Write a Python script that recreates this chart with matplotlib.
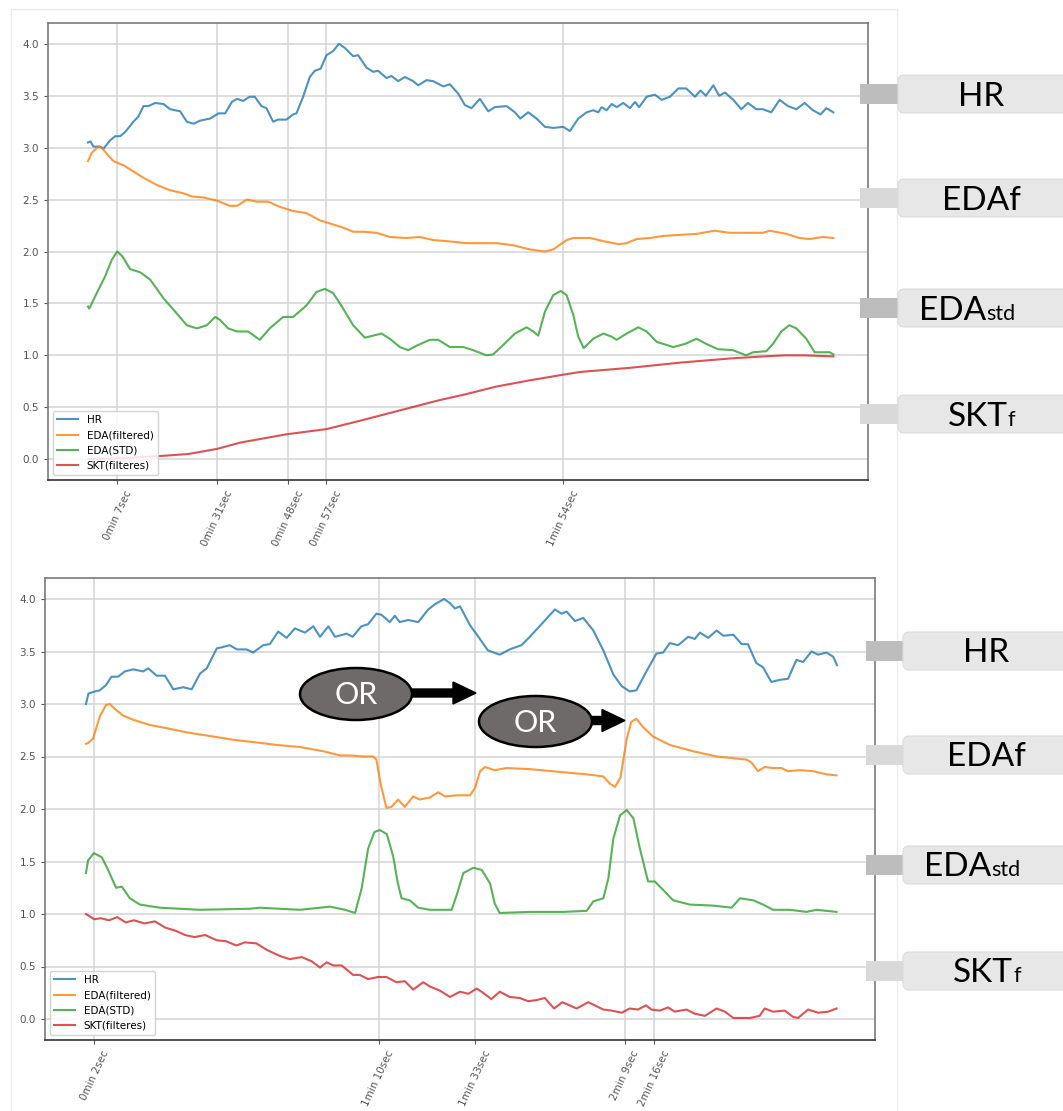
import matplotlib.pyplot as plt
from matplotlib.patches import FancyBboxPatch, Rectangle, Ellipse, FancyArrow

# ---------- data (time in seconds) ----------
# top recording
hr1_t = [0, 0.6, 1.3, 2.9, 3.7, 5.3, 6.5, 7.7, 8.9, 10.9, 12.1, 13.3, 14.5, 16.1, 18.1, 19.7, 22.1, 23.7,
         25.3, 26.9, 29.3, 31.3, 32.9, 34.5, 35.7, 37.2, 38.8, 40.0, 41.6, 42.8, 44.4, 45.6, 47.6, 49.2,
         50.0, 51.6, 53.2, 54.4, 55.8, 57.2, 58.8, 60.2, 61.6, 63.6, 64.8, 66.8, 68.4, 69.6, 71.6, 72.8,
         74.4, 76.0, 78.0, 79.2, 81.2, 82.8, 85.2, 86.8, 88.8, 90.4, 92.0, 94.0, 96.0, 97.6, 100.4, 102.4,
         103.7, 105.6, 107.6, 109.6, 111.6, 114.0, 115.6, 117.6, 119.6, 121.2, 122.4, 123.2, 124.4, 125.6,
         126.8, 128.4, 130.0, 131.2, 132.2, 134.0, 136.0, 137.6, 139.6, 141.6, 143.5, 145.6, 146.9, 148.2,
         150.0, 151.4, 152.8, 154.8, 156.7, 158.3, 160.3, 161.9, 163.9, 165.9, 167.9, 169.9, 171.9, 173.9,
         175.7, 177.1, 178.8]
hr1_v = [3.05, 3.06, 3.01, 3.01, 2.99, 3.07, 3.11, 3.11, 3.15, 3.25, 3.30, 3.40, 3.40, 3.43, 3.42, 3.37, 3.35, 3.25,
         3.23, 3.26, 3.28, 3.33, 3.33, 3.44, 3.47, 3.45, 3.49, 3.49, 3.40, 3.38, 3.25, 3.27, 3.27, 3.32,
         3.33, 3.49, 3.68, 3.74, 3.76, 3.89, 3.93, 4.00, 3.96, 3.88, 3.89, 3.77, 3.73, 3.74, 3.67, 3.69,
         3.64, 3.68, 3.64, 3.60, 3.65, 3.64, 3.59, 3.61, 3.52, 3.41, 3.38, 3.47, 3.35, 3.39, 3.40, 3.34,
         3.28, 3.34, 3.28, 3.20, 3.19, 3.20, 3.16, 3.28, 3.34, 3.36, 3.34, 3.39, 3.36, 3.42,
         3.39, 3.43, 3.38, 3.44, 3.39, 3.49, 3.51, 3.46, 3.49, 3.57, 3.57, 3.49, 3.55, 3.50,
         3.60, 3.50, 3.53, 3.46, 3.37, 3.43, 3.37, 3.37, 3.34, 3.46, 3.40, 3.37, 3.43, 3.36,
         3.32, 3.38, 3.34]

eda1_t = [0, 0.9, 2.5, 3.3, 4.5, 6.1, 8.5, 10.9, 13.3, 16.5, 19.7, 22.9, 24.9, 27.7, 30.9, 34.0, 35.8, 38.1,
          40.5, 43.2, 46.0, 49.2, 52.4, 55.6, 58.8, 61.2, 63.6, 66.0, 69.2, 72.4, 76.4, 79.6, 82.8, 86.0,
          90.8, 98.0, 102.0, 106.0, 109.6, 111.6, 114.8, 116.4, 120.4, 123.6, 127.2, 129.2, 131.6, 134.8,
          138.0, 142.0, 146.0, 150.3, 153.9, 157.9, 161.9, 163.5, 167.5, 170.7, 173.1, 176.3, 178.8]
eda1_v = [2.87, 2.95, 3.01, 3.00, 2.94, 2.87, 2.83, 2.77, 2.71, 2.64, 2.59, 2.56, 2.53, 2.52, 2.49, 2.44, 2.44, 2.50,
          2.48, 2.48, 2.43, 2.39, 2.37, 2.30, 2.26, 2.23, 2.19, 2.19, 2.18, 2.14, 2.13, 2.14, 2.11, 2.10,
          2.08, 2.08, 2.06, 2.02, 2.00, 2.02, 2.11, 2.13, 2.13, 2.10, 2.07, 2.08, 2.12, 2.13,
          2.15, 2.16, 2.17, 2.20, 2.18, 2.18, 2.18, 2.20, 2.17, 2.13, 2.12, 2.14, 2.13]

std1_t = [0, 0.3, 2.1, 4.1, 5.7, 7.0, 8.3, 10.1, 12.5, 14.9, 18.1, 20.5, 23.7, 26.1, 28.5, 30.5, 31.7, 33.6,
          35.7, 38.4, 41.2, 43.6, 46.8, 49.2, 52.4, 54.8, 56.8, 58.8, 61.2, 63.6, 66.4, 68.4, 70.4, 72.4,
          74.8, 76.8, 79.2, 82.0, 84.0, 86.8, 90.0, 92.4, 95.6, 97.2, 99.6, 102.4, 105.2, 106.8, 108.0,
          109.6, 111.6, 113.4, 114.8, 116.4, 117.6, 118.9, 121.2, 123.6, 125.6, 126.8, 129.2, 132.0, 134.0,
          136.4, 140.4, 143.2, 146.0, 148.3, 151.1, 154.7, 157.9, 159.5, 162.7, 164.3, 166.3, 168.2, 169.9,
          172.3, 174.3, 176.3, 177.9, 178.8]
std1_v = [1.47, 1.45, 1.60, 1.76, 1.92, 2.00, 1.95, 1.83, 1.80, 1.73, 1.55, 1.44, 1.29, 1.26, 1.29, 1.37, 1.34, 1.26,
          1.23, 1.23, 1.15, 1.26, 1.37, 1.37, 1.48, 1.61, 1.64, 1.60, 1.45, 1.29, 1.17, 1.19, 1.21, 1.16,
          1.08, 1.05, 1.10, 1.15, 1.15, 1.08, 1.08, 1.05, 1.00, 1.01, 1.10, 1.21, 1.27, 1.23, 1.19,
          1.42, 1.58, 1.62, 1.58, 1.39, 1.18, 1.07, 1.16, 1.21, 1.18, 1.15, 1.21, 1.27, 1.23,
          1.13, 1.08, 1.11, 1.16, 1.11, 1.06, 1.05, 1.00, 1.03, 1.04, 1.11, 1.23, 1.29, 1.26,
          1.16, 1.03, 1.03, 1.03, 1.01]

skt1_t = [0, 8, 17, 24, 31, 36.5, 47.6, 57.2, 65.2, 74.8, 84.4, 90, 98, 106, 113.4, 118, 130, 142, 154, 162,
          167, 172, 178.8]
skt1_v = [0.0, 0.01, 0.03, 0.05, 0.10, 0.16, 0.24, 0.29, 0.37, 0.47, 0.57, 0.62, 0.70, 0.76, 0.81, 0.84, 0.88,
          0.93, 0.97, 0.99, 1.00, 1.00, 0.99]

# bottom recording
hr2_t = [0, 0.6, 2.2, 3.3, 4.8, 6.1, 7.7, 9.3, 11.3, 13.7, 14.9, 16.9, 18.9, 20.9, 23.3, 25.3, 27.3, 28.9,
         31.3, 32.5, 34.4, 36.1, 38.4, 40.0, 42.4, 44.0, 46.0, 48.0, 50.0, 52.4, 54.4, 56.0, 58.0, 59.6,
         62.4, 63.8, 65.9, 67.5, 69.5, 70.7, 72.7, 73.9, 75.1, 77.1, 79.5, 81.9, 83.5, 85.7, 87.1, 88.3,
         89.5, 91.9, 93.9, 96.2, 99.0, 101.4, 104.2, 106.2, 109.0, 112.2, 113.8, 115.0, 117.0, 119.0,
         121.4, 123.8, 126.2, 128.2, 130.1, 131.7, 134.1, 136.5, 138.1, 139.7, 141.7, 144.1, 145.7, 146.9,
         148.9, 150.9, 152.5, 154.9, 156.9, 158.4, 160.4, 162.0, 164.0, 166.0, 168.0, 170.0, 171.6, 173.6,
         175.2, 177.2, 178.8, 179.7]
hr2_v = [3.00, 3.10, 3.12, 3.13, 3.18, 3.26, 3.26, 3.31, 3.33, 3.31, 3.34, 3.27, 3.27, 3.14, 3.16, 3.14, 3.29, 3.34,
         3.53, 3.54, 3.56, 3.52, 3.52, 3.49, 3.56, 3.57, 3.69, 3.63, 3.72, 3.68, 3.74, 3.64, 3.74, 3.64,
         3.67, 3.64, 3.74, 3.76, 3.86, 3.85, 3.78, 3.84, 3.78, 3.80, 3.78, 3.90, 3.95, 4.00, 3.96, 3.91,
         3.93, 3.75, 3.64, 3.51, 3.47, 3.52, 3.56, 3.64, 3.76, 3.90, 3.86, 3.88, 3.79, 3.82,
         3.70, 3.51, 3.28, 3.17, 3.12, 3.13, 3.31, 3.48, 3.49, 3.58, 3.56, 3.64, 3.62, 3.68,
         3.63, 3.70, 3.65, 3.66, 3.57, 3.57, 3.39, 3.35, 3.21, 3.23, 3.24, 3.42, 3.40, 3.50,
         3.47, 3.49, 3.45, 3.37]

eda2_t = [0, 0.6, 1.7, 3.3, 4.8, 5.7, 7.3, 8.9, 11.3, 15.3, 19.3, 24.1, 28.9, 35.2, 41.6, 45.6, 51.2, 56.8,
          60.8, 63.2, 66.3, 68.7, 69.5, 70.5, 71.9, 73.1, 74.7, 76.3, 78.3, 79.9, 82.3, 84.3, 85.9, 88.7,
          91.9, 93.1, 94.3, 95.5, 97.8, 100.6, 106.2, 114.2, 119.8, 123.8, 125.4, 126.6, 127.9, 129.4,
          130.5, 131.7, 133.3, 135.7, 139.7, 145.3, 150.9, 158.1, 159.3, 160.8, 162.4, 164.4, 166.4, 168.0,
          170.8, 174.0, 177.2, 179.6]
eda2_v = [2.62, 2.63, 2.67, 2.88, 2.99, 3.00, 2.94, 2.89, 2.85, 2.80, 2.77, 2.73, 2.70, 2.66, 2.63, 2.61, 2.59, 2.55,
          2.51, 2.51, 2.50, 2.50, 2.47, 2.24, 2.01, 2.02, 2.09, 2.02, 2.12, 2.09, 2.11, 2.16, 2.12, 2.13,
          2.13, 2.20, 2.36, 2.40, 2.37, 2.39, 2.38, 2.35, 2.33, 2.31, 2.24, 2.21, 2.30, 2.67,
          2.83, 2.86, 2.78, 2.69, 2.61, 2.55, 2.50, 2.47, 2.44, 2.36, 2.40, 2.39, 2.39, 2.36,
          2.37, 2.36, 2.33, 2.32]

std2_t = [0, 0.5, 1.9, 3.8, 5.3, 7.2, 8.6, 10.5, 12.9, 17.7, 27.3, 39.2, 41.6, 51.2, 58.4, 62.0, 64.4, 66.0,
          67.5, 69.0, 70.3, 72.0, 73.5, 74.6, 75.5, 77.5, 79.5, 82.3, 85.5, 87.5, 88.7, 90.3, 92.7, 94.7,
          96.7, 97.8, 99.0, 106.2, 114.2, 119.8, 121.4, 123.8, 125.0, 126.2, 127.8, 129.4, 131.0, 132.5,
          134.5, 136.1, 138.1, 140.5, 144.5, 150.1, 154.5, 156.5, 159.7, 162.0, 164.4, 168.4, 172.4, 174.8,
          179.6]
std2_v = [1.39, 1.51, 1.58, 1.54, 1.42, 1.25, 1.26, 1.15, 1.09, 1.06, 1.04, 1.05, 1.06, 1.04, 1.07, 1.04, 1.01, 1.25,
          1.62, 1.78, 1.80, 1.76, 1.55, 1.30, 1.15, 1.13, 1.06, 1.04, 1.04, 1.04, 1.18, 1.39, 1.44, 1.42,
          1.29, 1.10, 1.01, 1.02, 1.02, 1.03, 1.12, 1.15, 1.34, 1.72, 1.94, 1.99, 1.91, 1.63,
          1.31, 1.31, 1.23, 1.13, 1.09, 1.08, 1.06, 1.15, 1.13, 1.09, 1.04, 1.04, 1.02, 1.04,
          1.02]

skt2_t = [0, 2.0, 3.5, 5.5, 7.5, 9.5, 11.5, 14.0, 16.5, 19.0, 21.5, 23.7, 26.0, 28.5, 31.3, 33.6, 36.0, 38.0,
          40.8, 43.2, 46.4, 48.8, 51.6, 54.0, 56.0, 57.6, 59.2, 61.2, 63.9, 65.5, 67.5, 69.9, 71.9, 74.3,
          76.3, 78.3, 80.7, 82.3, 84.7, 87.1, 89.5, 91.5, 93.5, 95.0, 97.0, 99.0, 101.4, 103.8, 105.8, 107.8,
          109.8, 112.0, 114.0, 117.4, 120.2, 123.8, 125.8, 128.2, 130.1, 132.1, 134.0, 135.3, 137.3, 139.3,
          140.9, 143.7, 145.7, 148.1, 150.9, 152.9, 154.9, 158.9, 161.2, 162.4, 164.4, 167.2, 169.2, 170.4,
          172.8, 175.2, 177.6, 179.6]
skt2_v = [1.00, 0.95, 0.96, 0.94, 0.97, 0.92, 0.94, 0.91, 0.93, 0.87, 0.84, 0.80, 0.78, 0.80, 0.75, 0.74, 0.70, 0.73,
          0.72, 0.66, 0.60, 0.57, 0.59, 0.55, 0.49, 0.54, 0.51, 0.51, 0.42, 0.42, 0.38, 0.40, 0.40, 0.35,
          0.36, 0.28, 0.35, 0.31, 0.27, 0.21, 0.26, 0.24, 0.29, 0.25, 0.19, 0.26, 0.21, 0.20, 0.17, 0.18,
          0.20, 0.10, 0.16, 0.10, 0.16, 0.09, 0.08, 0.06, 0.10, 0.09, 0.13, 0.09, 0.08, 0.11,
          0.07, 0.09, 0.05, 0.03, 0.10, 0.07, 0.01, 0.01, 0.03, 0.10, 0.07, 0.08, 0.02, 0.01,
          0.09, 0.06, 0.07, 0.10]

ticks1 = [7, 31, 48, 57, 114]
ticklabels1 = ["0min 7sec", "0min 31sec", "0min 48sec", "0min 57sec", "1min 54sec"]
ticks2 = [2, 70, 93, 129, 136]
ticklabels2 = ["0min 2sec", "1min 10sec", "1min 33sec", "2min 9sec", "2min 16sec"]

labels = ["HR", "EDA(filtered)", "EDA(STD)", "SKT(filteres)"]
colors = ["#1f77b4", "#ff7f0e", "#2ca02c", "#d62728"]

W, H = 1063, 1111
fig = plt.figure(figsize=(W / 100, H / 100), dpi=100)


def panel(rect, series, ticks, ticklabels, xlim):
    ax = fig.add_axes(rect)
    for (t, v), lab, c in zip(series, labels, colors):
        ax.plot(t, v, color=c, lw=1.5, alpha=0.8, label=lab)
    ax.set_xlim(*xlim)
    ax.set_ylim(-0.2, 4.2)
    ax.set_yticks([0.0, 0.5, 1.0, 1.5, 2.0, 2.5, 3.0, 3.5, 4.0])
    ax.set_xticks(ticks)
    ax.set_xticklabels(ticklabels, rotation=65)
    ax.tick_params(labelsize=7.5, colors="#555555", length=3)
    ax.grid(True, color="#d4d4d4", lw=1.1)
    for s in ax.spines.values():
        s.set_color("#7a7a7a")
        s.set_linewidth(1.2)
    ax.spines["bottom"].set_color("#333333")
    ax.legend(loc="lower left", fontsize=7.5, framealpha=0.85, edgecolor="#cccccc")
    return ax


panel([48 / W, 1 - 480 / H, 820 / W, 457 / H],
      [(hr1_t, hr1_v), (eda1_t, eda1_v), (std1_t, std1_v), (skt1_t, skt1_v)],
      ticks1, ticklabels1, (-9.6, 187.1))
panel([45 / W, 1 - 1040 / H, 830 / W, 462 / H],
      [(hr2_t, hr2_v), (eda2_t, eda2_v), (std2_t, std2_v), (skt2_t, skt2_v)],
      ticks2, ticklabels2, (-9.8, 188.8))

# ---------- overlay in pixel coordinates: side labels, OR bubbles ----------
ov = fig.add_axes([0, 0, 1, 1], zorder=10)
ov.set_xlim(0, W)
ov.set_ylim(H, 0)
ov.axis("off")
ov.patch.set_alpha(0)

# faint screenshot frames
for x in (11, 897):
    ov.plot([x, x], [9, H], color="#ececec", lw=1)
ov.plot([11, 897], [9, 9], color="#ececec", lw=1)

font = "Lato"
dark_tab, light_tab = "#bdbdbd", "#d9d9d9"


def side_label(cy, box_x, tab_x, main, small, tab_color):
    ov.add_patch(Rectangle((tab_x, cy - 10), box_x - tab_x, 20, fc=tab_color, ec="none", zorder=3))
    ov.add_patch(FancyBboxPatch((box_x, cy - 19), 220, 38, boxstyle="round,pad=0,rounding_size=6",
                                fc="#e7e7e7", ec="#dcdcdc", lw=0.8, zorder=3))
    if small:
        split = box_x + 88 if main == "EDA" else box_x + 110
        ov.text(split, cy + 11.5, main, fontsize=24, family=font, ha="right", va="baseline", zorder=4)
        ov.text(split, cy + 11.5, small, fontsize=15.5, family=font, ha="left", va="baseline", zorder=4)
    else:
        ov.text(box_x + 83, cy + 11.5, main, fontsize=24, family=font, ha="center", va="baseline", zorder=4)


for cy, main, small, tc in [(94, "HR", "", dark_tab), (198, "EDAf", "", light_tab),
                            (308, "EDA", "std", dark_tab), (414, "SKT", "f", light_tab)]:
    side_label(cy, 898, 860, main, small, tc)
for cy, main, small, tc in [(651, "HR", "", dark_tab), (755, "EDAf", "", light_tab),
                            (865, "EDA", "std", dark_tab), (971, "SKT", "f", light_tab)]:
    side_label(cy, 903, 866, main, small, tc)

# OR bubbles with arrows
for cx, cy, w, h, x_end, tip in [(356, 694, 112, 52, 412, 476), (535.5, 721.5, 113, 51, 592, 625)]:
    ov.add_patch(Ellipse((cx, cy), w, h, fc="#6e6a6a", ec="black", lw=1.8, zorder=5))
    ov.text(cx, cy + 1, "OR", color="white", fontsize=22, family=font, ha="center", va="center", zorder=6)
    ov.add_patch(FancyArrow(x_end, cy - 1, tip - x_end, 0, width=8, head_width=22, head_length=23,
                            length_includes_head=True, fc="black", ec="black", zorder=4))

fig.savefig("out.png", dpi=100)
